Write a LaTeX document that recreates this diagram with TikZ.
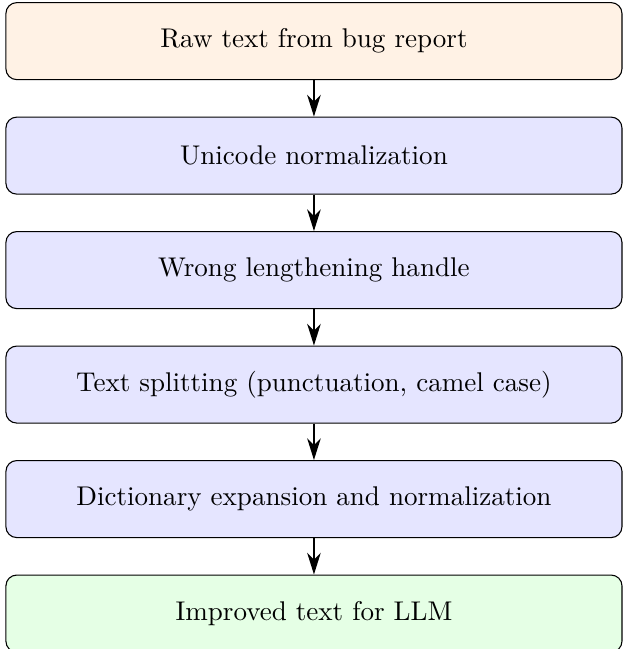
\documentclass[tikz,border=0pt]{standalone}
\usetikzlibrary{arrows.meta,positioning}
\tikzset{
  stage/.style={draw, rounded corners, minimum width=8cm, minimum height=1cm, align=center, fill=blue!10},
  stagein/.style={stage, fill=orange!10},
  stageout/.style={stage, fill=green!10},
  flow/.style={-{Stealth[length=8pt,width=5pt,inset=2.5pt]}, thick}
}
\begin{document}
\begin{tikzpicture}
  \useasboundingbox (0,0) rectangle (230.2pt,-239.8pt);
  \clip (0,0) rectangle (230.2pt,-239.8pt);
  \node[stagein] (n1) at (116pt,-15.2pt) {Raw text from bug report};
  \node[stage] (n2) at (116pt,-57.5pt) {Unicode normalization};
  \node[stage] (n3) at (116pt,-99.8pt) {Wrong lengthening handle};
  \node[stage] (n4) at (116pt,-142.1pt) {Text splitting (punctuation, camel case)};
  \node[stage] (n5) at (116pt,-184.4pt) {Dictionary expansion and normalization};
  \node[stageout] (n6) at (116pt,-226.7pt) {Improved text for LLM};
  \draw[flow] (n1) -- (n2);
  \draw[flow] (n2) -- (n3);
  \draw[flow] (n3) -- (n4);
  \draw[flow] (n4) -- (n5);
  \draw[flow] (n5) -- (n6);
\end{tikzpicture}
\end{document}
